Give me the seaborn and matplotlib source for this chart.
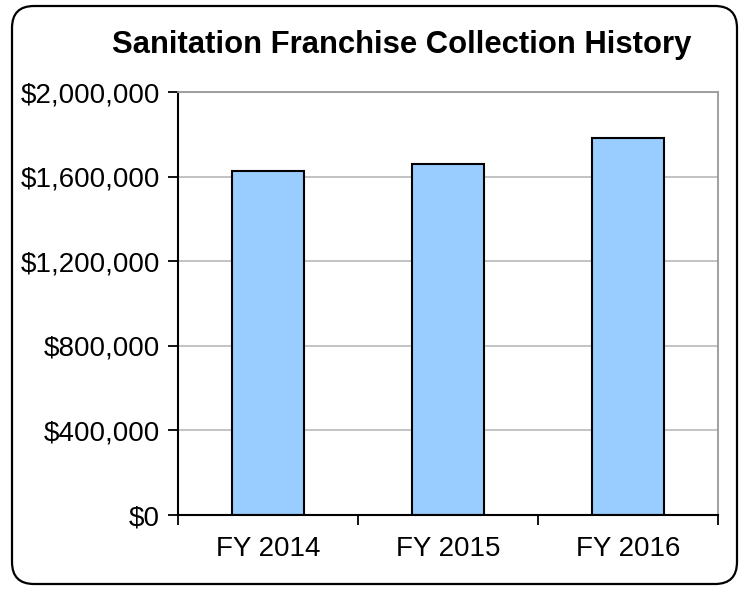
import matplotlib
matplotlib.use("Agg")
import matplotlib.pyplot as plt
import seaborn as sns
import pandas as pd
from matplotlib.patches import FancyBboxPatch
from matplotlib.ticker import FuncFormatter

# dados do grafico
anos = ["FY 2014", "FY 2015", "FY 2016"]
valores = [1625000, 1662000, 1783000]
titulo = "Sanitation Franchise Collection History"

df = pd.DataFrame({"ano": anos, "valor": valores})

sns.set_style("white")
plt.rcParams["font.family"] = ["Liberation Sans", "DejaVu Sans"]
plt.rcParams["text.color"] = "black"
plt.rcParams["xtick.color"] = "black"
plt.rcParams["ytick.color"] = "black"

fig = plt.figure(figsize=(7.42, 5.9), dpi=100)
ax = fig.add_axes([0.240, 0.127, 0.728, 0.717])

sns.barplot(data=df, x="ano", y="valor", color="#99CCFF", width=0.4,
            edgecolor="black", linewidth=1.5, saturation=1, ax=ax)

ax.set_ylim(0, 2000000)
ax.set_xlim(-0.5, 2.5)
ax.set_yticks(range(0, 2000001, 400000))
ax.yaxis.set_major_formatter(FuncFormatter(lambda v, p: "${:,.0f}".format(v)))
ax.grid(axis="y", color="#BEBEBE", linewidth=1.3)
ax.set_axisbelow(True)
ax.set_xlabel("")
ax.set_ylabel("")

# bordas da area do grafico
for s in ["top", "right"]:
    ax.spines[s].set_color("#999999")
    ax.spines[s].set_linewidth(1.3)
for s in ["left", "bottom"]:
    ax.spines[s].set_color("black")
    ax.spines[s].set_linewidth(1.5)

ax.tick_params(axis="y", direction="out", length=7, width=1.3, labelsize=20, pad=6,
               left=True, colors="black")
ax.tick_params(axis="x", which="major", length=0, labelsize=20, pad=15, colors="black")
ax.set_xticks([-0.5, 0.5, 1.5, 2.5], minor=True)
ax.tick_params(axis="x", which="minor", direction="out", length=7, width=1.3, bottom=True)

fig.text(0.541, 0.924, titulo, ha="center", va="center", fontsize=22.3,
         fontweight="bold", color="black")

# moldura arredondada
borda = FancyBboxPatch((12, 6), 725, 578, boxstyle="round,pad=0,rounding_size=22",
                       transform=None, facecolor="none", edgecolor="black", linewidth=1.6)
fig.patches.append(borda)

fig.savefig("out.png", dpi=100)
